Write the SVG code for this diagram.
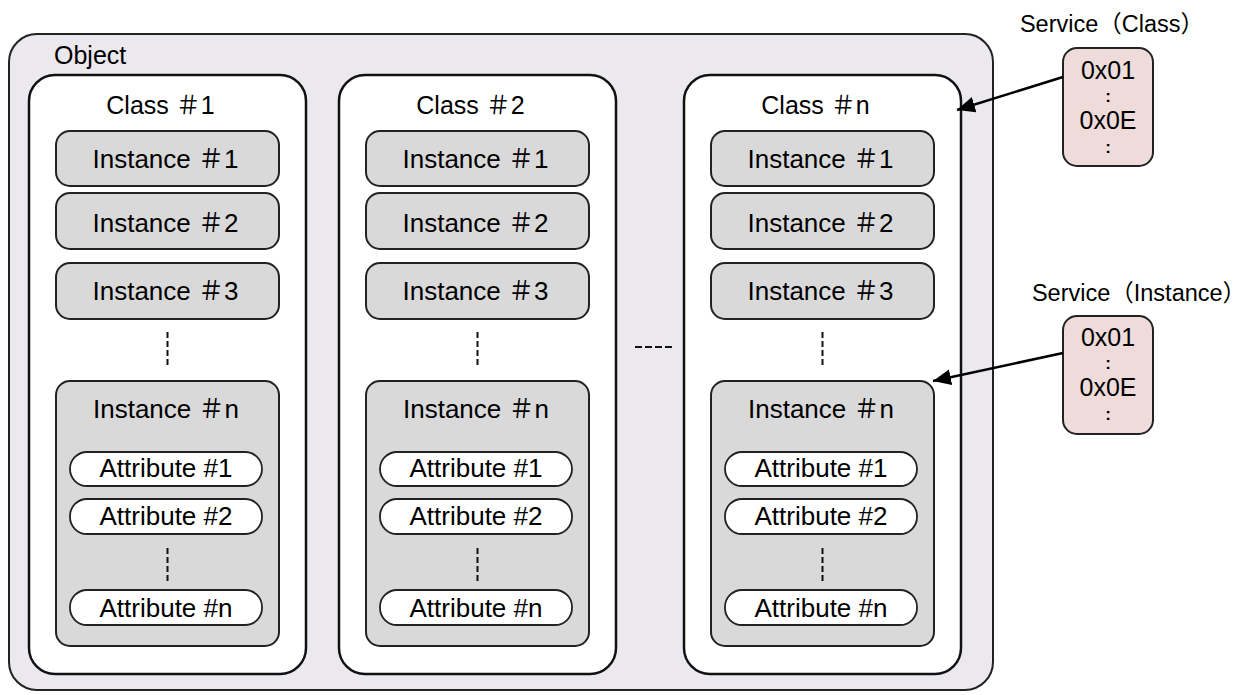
<svg xmlns="http://www.w3.org/2000/svg" width="1246" height="695" viewBox="0 0 1246 695">
<style>
text{font-family:"Liberation Sans","Noto Sans CJK JP",Arial,sans-serif;fill:#000}
.obj{fill:#ebe8ee;stroke:#222;stroke-width:2}
.cls{fill:#fff;stroke:#111;stroke-width:2.5}
.inst{fill:#d9d9d9;stroke:#222;stroke-width:2}
.attr{fill:#fff;stroke:#222;stroke-width:1.8}
.svc{fill:#efdcda;stroke:#222;stroke-width:2}
.dash{stroke:#111;stroke-width:2;stroke-dasharray:6,3;fill:none}
.t25{font-size:25px;text-anchor:middle}
.t26{font-size:26px;text-anchor:middle}
.ta{font-size:26px;text-anchor:middle}
.ts{font-size:23.5px;text-anchor:middle}
.hx{font-size:25px;text-anchor:middle}
.col{font-size:17px;text-anchor:middle;font-weight:bold}
.conn{stroke:#000;stroke-width:2.5;fill:none}
</style>
<defs>
<marker id="ah" markerUnits="userSpaceOnUse" markerWidth="20" markerHeight="16" refX="18" refY="8" orient="auto">
<path d="M0,0 L18,8 L0,16 Z" fill="#000"/>
</marker>
</defs>
<g id="object">
<rect class="obj" x="9" y="34" width="984" height="656" rx="28"/>
<text x="54" y="64" style="font-size:25px">Object</text>
</g>
<g id="class1">
<rect class="cls" x="29" y="75" width="277" height="599" rx="26"/>
<text class="t25" x="160.5" y="114">Class ＃1</text>
<rect class="inst" x="56" y="131" width="223" height="55" rx="14"/>
<text class="t26" x="165.5" y="168">Instance ＃1</text>
<rect class="inst" x="56" y="193" width="223" height="56" rx="14"/>
<text class="t26" x="165.5" y="232">Instance ＃2</text>
<rect class="inst" x="56" y="263" width="223" height="56" rx="14"/>
<text class="t26" x="165.5" y="300">Instance ＃3</text>
<line class="dash" x1="167.5" y1="332" x2="167.5" y2="368"/>
<rect class="inst" x="56" y="381" width="223" height="265" rx="14"/>
<text class="t26" x="166" y="418">Instance ＃n</text>
<rect class="attr" x="70" y="452" width="192" height="34" rx="17"/>
<text class="ta" x="166" y="477">Attribute #1</text>
<rect class="attr" x="70" y="499" width="192" height="35" rx="17"/>
<text class="ta" x="166" y="525">Attribute #2</text>
<line class="dash" x1="167.5" y1="548" x2="167.5" y2="583"/>
<rect class="attr" x="70" y="590" width="192" height="35" rx="17"/>
<text class="ta" x="166" y="617">Attribute #n</text>
</g>
<g id="class2">
<rect class="cls" x="339" y="75" width="277" height="599" rx="26"/>
<text class="t25" x="470.5" y="114">Class ＃2</text>
<rect class="inst" x="366" y="131" width="223" height="55" rx="14"/>
<text class="t26" x="475.5" y="168">Instance ＃1</text>
<rect class="inst" x="366" y="193" width="223" height="56" rx="14"/>
<text class="t26" x="475.5" y="232">Instance ＃2</text>
<rect class="inst" x="366" y="263" width="223" height="56" rx="14"/>
<text class="t26" x="475.5" y="300">Instance ＃3</text>
<line class="dash" x1="477.5" y1="332" x2="477.5" y2="368"/>
<rect class="inst" x="366" y="381" width="223" height="265" rx="14"/>
<text class="t26" x="476" y="418">Instance ＃n</text>
<rect class="attr" x="380" y="452" width="192" height="34" rx="17"/>
<text class="ta" x="476" y="477">Attribute #1</text>
<rect class="attr" x="380" y="499" width="192" height="35" rx="17"/>
<text class="ta" x="476" y="525">Attribute #2</text>
<line class="dash" x1="477.5" y1="548" x2="477.5" y2="583"/>
<rect class="attr" x="380" y="590" width="192" height="35" rx="17"/>
<text class="ta" x="476" y="617">Attribute #n</text>
</g>
<g id="ellipsis">
<line class="dash" x1="635" y1="347" x2="672" y2="347" style="stroke-dasharray:7,3"/>
</g>
<g id="classn">
<rect class="cls" x="684" y="75" width="277" height="599" rx="26"/>
<text class="t25" x="815.5" y="114">Class ＃n</text>
<rect class="inst" x="711" y="131" width="223" height="55" rx="14"/>
<text class="t26" x="820.5" y="168">Instance ＃1</text>
<rect class="inst" x="711" y="193" width="223" height="56" rx="14"/>
<text class="t26" x="820.5" y="232">Instance ＃2</text>
<rect class="inst" x="711" y="263" width="223" height="56" rx="14"/>
<text class="t26" x="820.5" y="300">Instance ＃3</text>
<line class="dash" x1="822.5" y1="332" x2="822.5" y2="368"/>
<rect class="inst" x="711" y="381" width="223" height="265" rx="14"/>
<text class="t26" x="821" y="418">Instance ＃n</text>
<rect class="attr" x="725" y="452" width="192" height="34" rx="17"/>
<text class="ta" x="821" y="477">Attribute #1</text>
<rect class="attr" x="725" y="499" width="192" height="35" rx="17"/>
<text class="ta" x="821" y="525">Attribute #2</text>
<line class="dash" x1="822.5" y1="548" x2="822.5" y2="583"/>
<rect class="attr" x="725" y="590" width="192" height="35" rx="17"/>
<text class="ta" x="821" y="617">Attribute #n</text>
</g>
<g id="service-class">
<text class="ts" x="1112" y="32">Service（Class）</text>
<rect class="svc" x="1063" y="48" width="90" height="118" rx="14"/>
<text class="hx" x="1108" y="79">0x01</text>
<text class="col" x="1108" y="102">:</text>
<text class="hx" x="1108" y="129">0x0E</text>
<text class="col" x="1108" y="153">:</text>
</g>
<g id="service-instance">
<text class="ts" x="1139" y="301">Service（Instance）</text>
<rect class="svc" x="1063" y="316" width="90" height="118" rx="14"/>
<text class="hx" x="1108" y="346">0x01</text>
<text class="col" x="1108" y="369">:</text>
<text class="hx" x="1108" y="396">0x0E</text>
<text class="col" x="1108" y="420">:</text>
</g>
<g id="connectors">
<line class="conn" x1="1063" y1="77" x2="957" y2="110" marker-end="url(#ah)"/>
<line class="conn" x1="1063" y1="353" x2="933" y2="381" marker-end="url(#ah)"/>
</g>
</svg>
